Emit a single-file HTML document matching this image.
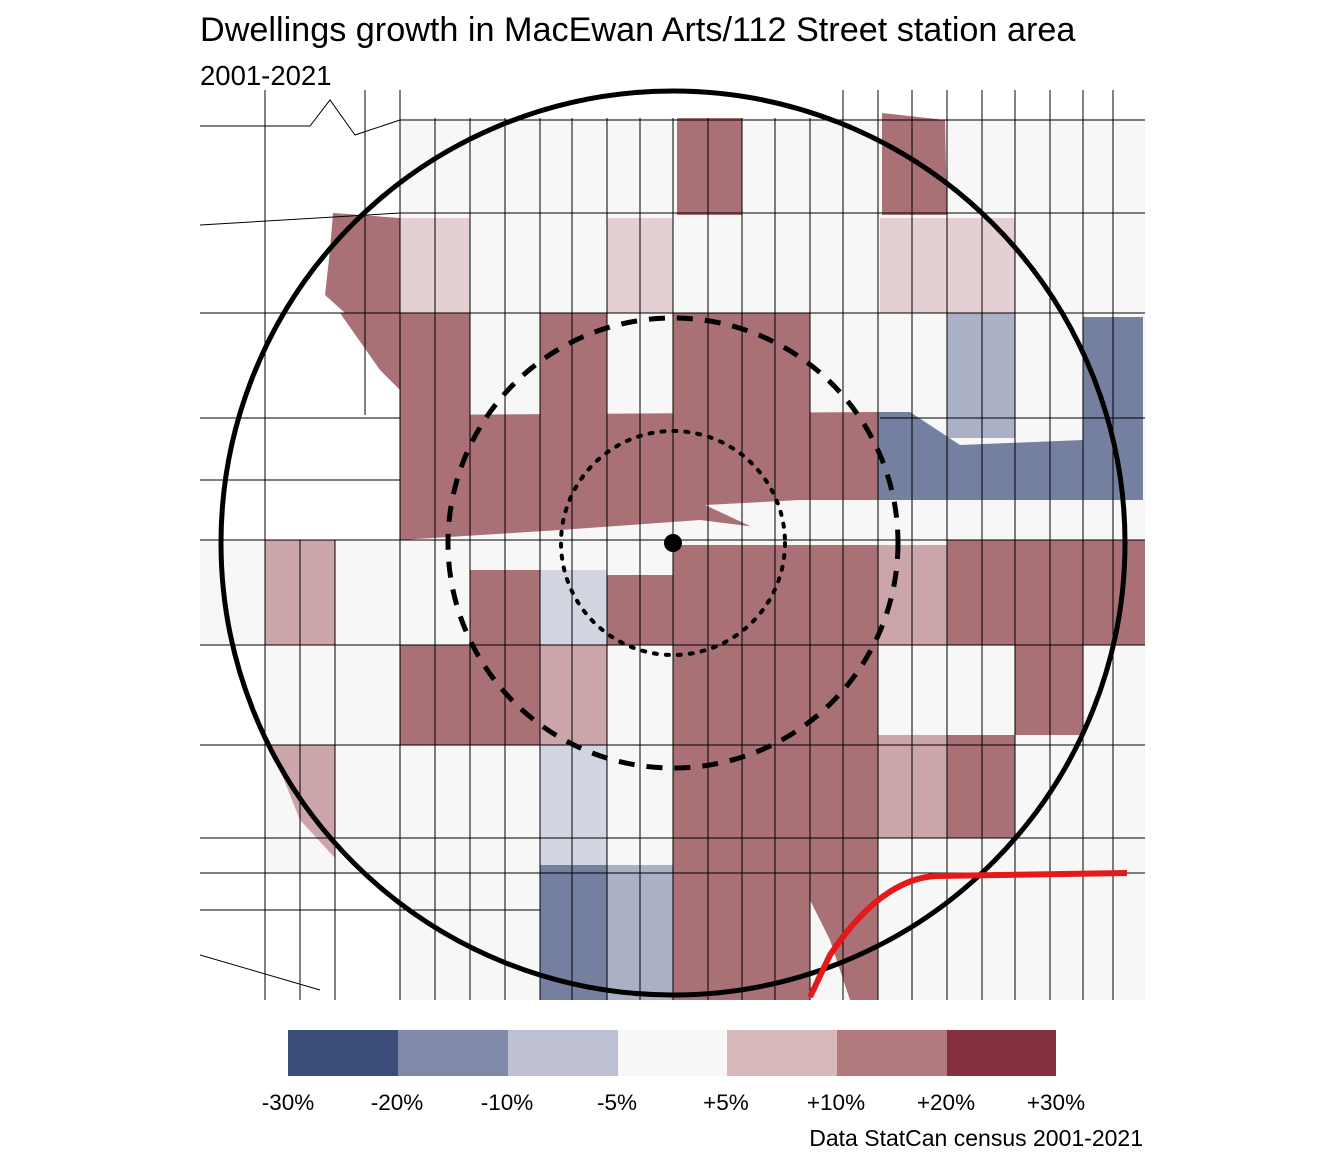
<!DOCTYPE html>
<html><head><meta charset="utf-8"><style>
html,body{margin:0;padding:0;background:#fff;}
svg{display:block;font-family:"Liberation Sans",sans-serif;}
</style></head><body>
<svg width="1344" height="1152" viewBox="0 0 1344 1152">
<text x="200" y="41" font-size="34.2" fill="#000">Dwellings growth in MacEwan Arts/112 Street station area</text>
<text x="200" y="85" font-size="27.5" fill="#000">2001-2021</text>
<defs><clipPath id="c"><rect x="200" y="90" width="945" height="910"/></clipPath></defs>
<g clip-path="url(#c)">
<rect x="400" y="118" width="745" height="882" fill="#f7f7f7"/>
<rect x="200" y="540" width="200" height="105" fill="#f7f7f7"/>
<rect x="265" y="645" width="135" height="230" fill="#f7f7f7"/>
<g fill="#a97076">
<rect x="677" y="118" width="65" height="97"/>
<polygon points="882,113 945,120 947,215 882,215"/>
<polygon points="333,213 400,218 400,313 345,313 325,295 330,250"/>
<polygon points="340,313 470,313 470,415 400,415 400,390 380,370"/>
<rect x="540" y="313" width="67" height="102"/>
<rect x="673" y="313" width="137" height="102"/>
<polygon points="400,415 878,412 878,500 800,500 705,505 780,530 700,520 560,530 400,540"/>
<rect x="470" y="570" width="70" height="75"/>
<rect x="607" y="575" width="66" height="70"/>
<polygon points="673,545 878,545 878,1000 850,1000 830,940 800,880 740,860 673,860"/>
<rect x="947" y="540" width="198" height="105"/>
<rect x="400" y="645" width="140" height="100"/>
<rect x="1015" y="645" width="68" height="90"/>
<rect x="947" y="735" width="68" height="103"/>
<polygon points="673,860 810,860 810,1000 673,1000"/>
</g>
<g fill="#e4cfd2">
<rect x="400" y="218" width="70" height="95"/>
<rect x="607" y="218" width="66" height="95"/>
<rect x="880" y="218" width="135" height="95"/>
</g>
<g fill="#cba5aa">
<rect x="265" y="540" width="70" height="105"/>
<rect x="878" y="545" width="69" height="100"/>
<rect x="540" y="645" width="67" height="100"/>
<polygon points="270,745 335,745 335,858 300,820"/>
<rect x="878" y="735" width="69" height="103"/>
</g>
<rect x="540" y="570" width="67" height="75" fill="#d3d6e0"/>
<rect x="540" y="745" width="67" height="120" fill="#d3d6e0"/>
<rect x="947" y="313" width="68" height="125" fill="#aab0c6"/>
<rect x="607" y="865" width="66" height="135" fill="#aab0c6"/>
<rect x="540" y="865" width="67" height="135" fill="#7580a0"/>
<polygon points="1083,317 1143,317 1143,500 878,500 878,412 910,412 960,445 1083,440" fill="#7580a0"/>
<polygon points="705,505 878,500 940,505 1145,500 1145,540 780,540" fill="#f7f7f7"/>
<g stroke="#000" stroke-width="1" fill="none">
<path d="M265 90V1000M300 540V1000M335 540V1000M365 90V415M400 90V1000M435 118V1000M470 118V1000M505 118V1000M540 118V1000M572 118V1000M607 118V1000M640 118V1000M673 118V1000M708 118V1000M742 118V1000M775 118V1000M810 118V1000M843 90V1000M878 90V1000M912 90V1000M947 90V1000M982 90V1000M1015 90V1000M1050 90V1000M1083 90V1000M1113 90V1000"/>
<path d="M200 126H310L330 100L355 135L400 120H1145M200 225L400 213H1145M200 313H1145M200 418H400M200 480H400M200 540H1145M200 645H1145M200 745H1145M200 838H1145M200 873H1145M200 910H540M200 955L320 990M880 418H1145"/>
</g>
</g>
<circle cx="673" cy="543" r="452" fill="none" stroke="#000" stroke-width="5"/>
<circle cx="673" cy="543" r="225" fill="none" stroke="#000" stroke-width="5" stroke-dasharray="16,12"/>
<circle cx="673" cy="543" r="112" fill="none" stroke="#000" stroke-width="4" stroke-dasharray="3,9" stroke-linecap="round"/>
<circle cx="673" cy="543" r="9" fill="#000"/>
<path d="M810 997L830 955Q880 880 935 876L1127 873" fill="none" stroke="#e31a1c" stroke-width="6"/>
<rect x="288" y="1030" width="110" height="46" fill="#3a4d78"/>
<rect x="398" y="1030" width="110" height="46" fill="#8189a8"/>
<rect x="508" y="1030" width="110" height="46" fill="#bcc0d2"/>
<rect x="618" y="1030" width="109" height="46" fill="#f7f7f7"/>
<rect x="727" y="1030" width="110" height="46" fill="#d9b8bb"/>
<rect x="837" y="1030" width="110" height="46" fill="#b27a7e"/>
<rect x="947" y="1030" width="109" height="46" fill="#85303e"/>
<g font-size="22.5" text-anchor="middle" fill="#000">
<text x="288" y="1110">-30%</text><text x="397" y="1110">-20%</text><text x="507" y="1110">-10%</text><text x="617" y="1110">-5%</text>
<text x="726" y="1110">+5%</text><text x="836" y="1110">+10%</text><text x="946" y="1110">+20%</text><text x="1056" y="1110">+30%</text>
</g>
<text x="1143" y="1146" font-size="23" text-anchor="end">Data StatCan census 2001-2021</text>
</svg>
</body></html>
